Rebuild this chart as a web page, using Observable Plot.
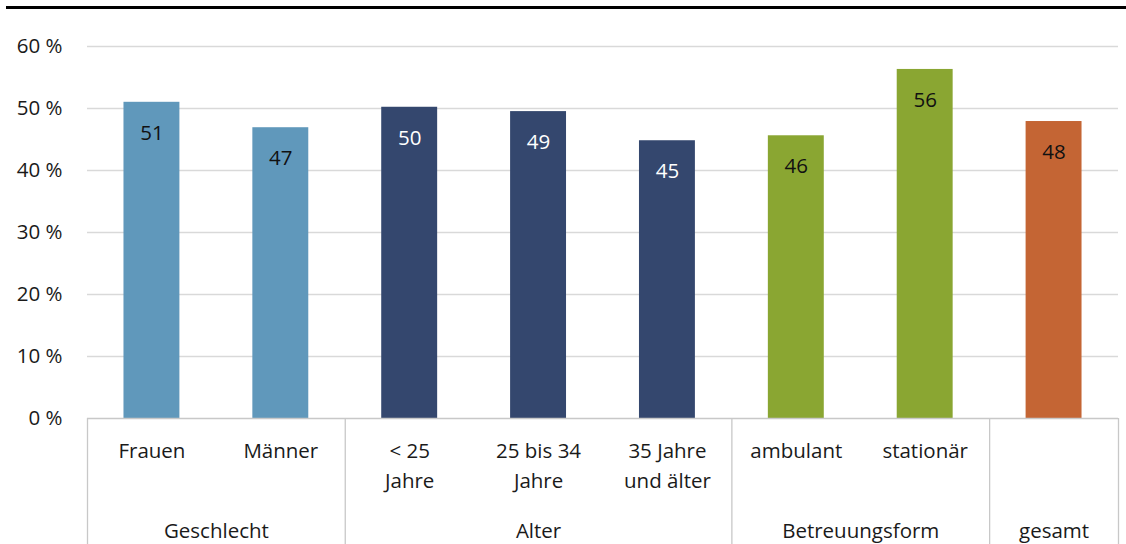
<!DOCTYPE html>
<html><head><meta charset="utf-8">
<script src="https://cdn.jsdelivr.net/npm/d3@7"></script>
<script src="https://cdn.jsdelivr.net/npm/@observablehq/plot@0.6"></script>
<style>
body{margin:0;background:#fff;font-family:"Open Sans",sans-serif;}
#topline{margin:6px 0 0 6px;height:3px;background:#000;}
#chart svg{display:block;}
</style></head><body>
<div id="topline"></div>
<div id="chart"></div>
<script>
const categories = ["Frauen","Männer","< 25\nJahre","25 bis 34\nJahre","35 Jahre\nund älter","ambulant","stationär",""];
const values = [51.0, 46.9, 50.2, 49.5, 44.8, 45.6, 56.3, 47.9];
const valueLabels = ["51","47","50","49","45","46","56","48"];
const groupOf = ["Geschlecht","Geschlecht","Alter","Alter","Alter","Betreuungsform","Betreuungsform","gesamt"];
const groups = ["Geschlecht","Alter","Betreuungsform","gesamt"];
const groupColors = ["#6098bb","#34476e","#8aa632","#c46534"];
const labelColors = ["#111111","#ffffff","#111111","#111111"];
const yTicks = [0,10,20,30,40,50,60];

const data = categories.map((c,i)=>({i, cat:c, value:values[i], label:valueLabels[i], group:groupOf[i]}));
const spans = groups.map(g=>{
  const idx = data.filter(d=>d.group===g).map(d=>d.i);
  return {group:g, start:d3.min(idx), end:d3.max(idx)+1};
});
const boundaries = [0, ...spans.map(s=>s.end)];

const FS = 20.5;
const W = 1126, H = 535;
const chart = Plot.plot({
  width: W, height: H,
  marginLeft: 87, marginRight: 8, marginTop: 37, marginBottom: 126,
  style: {fontFamily: '"Open Sans", sans-serif', fontSize: FS + "px", color: "#1a1a1a", background: "#fff"},
  x: {type: "linear", domain: [0, categories.length], axis: null},
  y: {domain: [0, 60], axis: null},
  color: {domain: groups, range: groupColors},
  marks: [
    Plot.ruleY(yTicks.filter(t=>t>0), {stroke: "#d9d9d9", strokeWidth: 1.3}),
    Plot.axisY(yTicks, {tickSize: 0, tickPadding: 25, tickFormat: d => d + " %", fontSize: FS, label: null}),
    Plot.rectY(data, {x1: d => d.i + 0.283, x2: d => d.i + 0.717, y: "value", fill: "group"}),
    Plot.text(data, {x: d => d.i + 0.5, y: "value", text: "label", dy: 31, fontSize: FS,
      fill: d => labelColors[groups.indexOf(d.group)]}),
    Plot.ruleY([0], {stroke: "#c8c8c8", strokeWidth: 1.3}),
    Plot.ruleX(boundaries, {x: d => d, y1: 0, y2: 0, insetBottom: -126, stroke: "#c8c8c8", strokeWidth: 1.3}),
    Plot.text(data, {x: d => d.i + 0.5, y: 0, text: "cat", dy: 18, lineAnchor: "top", lineHeight: 1.46, fontSize: FS, fill: "#1a1a1a"}),
    Plot.text(spans, {x: d => (d.start + d.end) / 2, y: 0, text: "group", dy: 105, lineAnchor: "top", fontSize: FS, fill: "#1a1a1a"})
  ]
});
document.getElementById("chart").appendChild(chart);
</script>
</body></html>
